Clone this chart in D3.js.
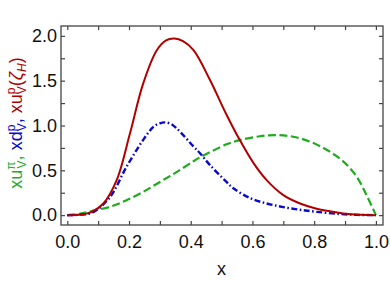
<!DOCTYPE html>
<html lang="en">
<head>
  <meta charset="UTF-8">
  <title>valence PDFs</title>
  <script src="https://d3js.org/d3.v7.min.js"></script>
  <style>
    html, body { margin: 0; padding: 0; background: #fff; }
    svg { display: block; }
    .tick text { font: 18px "Liberation Sans", Arial, sans-serif; fill: #111; }
    .tick line { stroke: #444; stroke-width: 1.2px; }
    .curve { fill: none; }
  </style>
</head>
<body>
  <svg id="chart" width="390" height="281"></svg>
  <script>
  // curves: x and value
  const uValenceProtonX = [0, 0.04, 0.079, 0.117, 0.16, 0.203, 0.246, 0.29, 0.32, 0.347, 0.375, 0.409, 0.462, 0.516, 0.559, 0.6035, 0.646, 0.70, 0.754, 0.808, 0.851, 0.894, 0.95, 1.0];
  const uValenceProtonY = [0, 0.004, 0.037, 0.13, 0.39, 0.91, 1.47, 1.84, 1.95, 1.97, 1.94, 1.84, 1.51, 1.12, 0.837, 0.58, 0.39, 0.223, 0.13, 0.072, 0.043, 0.018, 0.004, 0];

  const dValenceProtonX = [0, 0.04, 0.082, 0.138, 0.192, 0.246, 0.279, 0.30, 0.316, 0.335, 0.354, 0.408, 0.43, 0.462, 0.516, 0.538, 0.592, 0.646, 0.70, 0.754, 0.808, 0.88, 0.94, 1.0];
  const dValenceProtonY = [0, 0.005, 0.03, 0.20, 0.54, 0.84, 0.985, 1.025, 1.035, 1.02, 0.97, 0.77, 0.69, 0.56, 0.37, 0.30, 0.19, 0.13, 0.09, 0.06, 0.037, 0.013, 0.003, 0];

  const uValencePionX = [0, 0.04, 0.082, 0.138, 0.192, 0.246, 0.30, 0.354, 0.408, 0.43, 0.516, 0.559, 0.624, 0.678, 0.732, 0.786, 0.840, 0.894, 0.9375, 0.97, 1.0];
  const uValencePionY = [0, 0.015, 0.048, 0.093, 0.167, 0.26, 0.37, 0.48, 0.60, 0.645, 0.79, 0.837, 0.88, 0.893, 0.875, 0.82, 0.73, 0.60, 0.43, 0.22, 0];

  const xTicks = [0, 0.1, 0.2, 0.3, 0.4, 0.5, 0.6, 0.7, 0.8, 0.9, 1.0];
  const xLabelled = [0, 0.2, 0.4, 0.6, 0.8, 1.0];
  const yTicks = [0, 0.25, 0.5, 0.75, 1.0, 1.25, 1.5, 1.75, 2.0];
  const yLabelled = [0, 0.5, 1.0, 1.5, 2.0];

  const series = [
    { name: "uvPion", xs: uValencePionX, ys: uValencePionY, color: "#1fac1f", width: 2.2, dash: "8,3.5" },
    { name: "dvProton", xs: dValenceProtonX, ys: dValenceProtonY, color: "#0a0ac8", width: 2.4, dash: "6,2.5,1.6,2.5" },
    { name: "uvProton", xs: uValenceProtonX, ys: uValenceProtonY, color: "#b00000", width: 2.0, dash: null }
  ];

  const svg = d3.select("#chart");
  const frame = { left: 61, right: 383, top: 26, bottom: 225 };

  const x = d3.scaleLinear().domain([-0.0204, 1.023]).range([frame.left, frame.right]);
  const y = d3.scaleLinear().domain([-0.11, 2.11]).range([frame.bottom, frame.top]);

  const line = d3.line()
    .x(d => x(d[0]))
    .y(d => y(d[1]))
    .curve(d3.curveCatmullRom.alpha(0.5));

  series.forEach(s => {
    const pts = s.xs.map((v, i) => [v, s.ys[i]]);
    svg.append("path")
      .attr("class", "curve")
      .attr("d", line(pts))
      .attr("stroke", s.color)
      .attr("stroke-width", s.width)
      .attr("stroke-dasharray", s.dash);
  });

  const fmt = v => xLabelled.some(t => Math.abs(t - v) < 1e-9) ? d3.format(".1f")(v) : "";
  const fmtY = v => yLabelled.some(t => Math.abs(t - v) < 1e-9) ? d3.format(".1f")(v) : "";

  // inward ticks on all four sides
  svg.append("g").attr("transform", `translate(0,${frame.bottom})`)
    .call(d3.axisBottom(x).tickValues(xTicks).tickSizeInner(-4).tickSizeOuter(0).tickPadding(10).tickFormat(fmt));
  svg.append("g").attr("transform", `translate(0,${frame.top})`)
    .call(d3.axisTop(x).tickValues(xTicks).tickSizeInner(-4).tickSizeOuter(0).tickFormat(""));
  svg.append("g").attr("transform", `translate(${frame.left},0)`)
    .call(d3.axisLeft(y).tickValues(yTicks).tickSizeInner(-4).tickSizeOuter(0).tickPadding(4).tickFormat(fmtY));
  svg.append("g").attr("transform", `translate(${frame.right},0)`)
    .call(d3.axisRight(y).tickValues(yTicks).tickSizeInner(-4).tickSizeOuter(0).tickFormat(""));

  svg.selectAll(".domain").remove();

  svg.append("rect")
    .attr("x", frame.left).attr("y", frame.top)
    .attr("width", frame.right - frame.left).attr("height", frame.bottom - frame.top)
    .attr("fill", "none").attr("stroke", "#444").attr("stroke-width", 1.3);

  svg.append("text")
    .attr("x", x(0.5)).attr("y", 275)
    .attr("text-anchor", "middle")
    .style("font", "18px 'Liberation Sans', Arial, sans-serif")
    .style("fill", "#111")
    .text("x");

  // y label, three coloured pieces with sub/superscripts
  const ylab = svg.append("text")
    .attr("transform", `translate(22,123) rotate(-90)`)
    .attr("text-anchor", "middle")
    .style("font", "18px 'Liberation Sans', Arial, sans-serif");

  function piece(label, sup, sub, color, tail) {
    ylab.append("tspan").attr("fill", color).text(label);
    ylab.append("tspan").attr("fill", color)
      .attr("font-size", "12px").attr("dy", -7.5).text(sup);
    ylab.append("tspan").attr("fill", color)
      .attr("font-size", "12px").attr("dx", -(sup === "π" ? 7 : 6.7)).attr("dy", 11.5).text(sub);
    ylab.append("tspan").attr("fill", color).attr("dy", -4).text(tail);
  }
  piece("xu", "π", "V", "#1fac1f", ", ");
  piece("xd", "p", "V", "#0a0ac8", ", ");
  piece("xu", "p", "V", "#b00000", "(");
  ylab.append("tspan").attr("fill", "#b00000").attr("font-style", "italic").text("ζ");
  ylab.append("tspan").attr("fill", "#b00000").attr("font-style", "italic")
    .attr("font-size", "12px").attr("dy", 4).text("H");
  ylab.append("tspan").attr("fill", "#b00000").attr("dy", -4).text(")");
  </script>
</body>
</html>
